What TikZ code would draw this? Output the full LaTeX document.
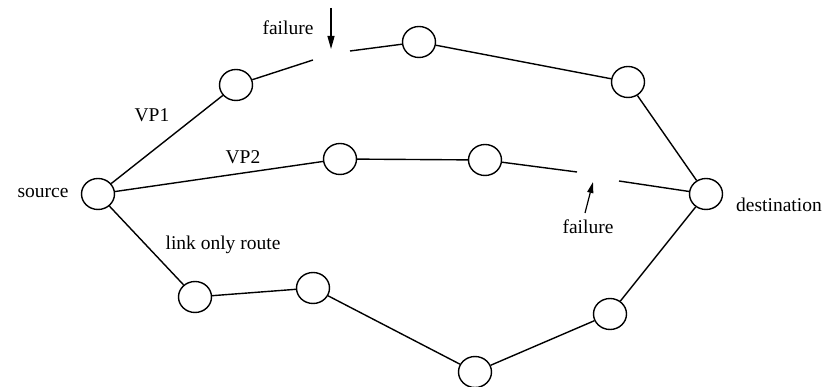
\documentclass[tikz,border=0pt]{standalone}
\usepackage{fontspec}
\setmainfont{Liberation Serif}
\usetikzlibrary{shapes.geometric,arrows.meta}
\begin{document}
\begin{tikzpicture}[x=1pt,y=-1pt,
  router/.style={draw,ellipse,line width=1.4pt,minimum width=33pt,minimum height=31pt,inner sep=0pt},
  link/.style={line width=1.4pt},
  pointer/.style={line width=1.2pt,-{Triangle[length=13pt,width=7pt]}},
  lbl/.style={font=\fontsize{19.5}{22}\selectfont,inner sep=0pt}]
\useasboundingbox (0,0) rectangle (827,387);
% routers
\node[router] (src) at (98,194) {};
\node[router] (a1) at (236,85) {};
\node[router] (a2) at (419,42) {};
\node[router] (a3) at (628,82) {};
\node[router] (dst) at (706,194) {};
\node[router] (b1) at (340,159) {};
\node[router] (b2) at (485,160) {};
\node[router] (c1) at (195,297) {};
\node[router] (c2) at (313,288) {};
\node[router] (c3) at (475,372) {};
\node[router] (c4) at (610,314) {};
% ends of the broken links
\coordinate (fa) at (313,60);
\coordinate (fb) at (350,51);
\coordinate (fc) at (577,172);
\coordinate (fd) at (619,181);
% VP1
\draw[link] (src) -- (a1);
\draw[link] (a1) -- (fa);
\draw[link] (fb) -- (a2);
\draw[link] (a2) -- (a3);
\draw[link] (a3) -- (dst);
% VP2
\draw[link] (src) -- (b1);
\draw[link] (b1) -- (b2);
\draw[link] (b2) -- (fc);
\draw[link] (fd) -- (dst);
% link only route
\draw[link] (src) -- (c1);
\draw[link] (c1) -- (c2);
\draw[link] (c2) -- (c3);
\draw[link] (c3) -- (c4);
\draw[link] (c4) -- (dst);
% failure markers
\coordinate (p1s) at (331,8);
\coordinate (p1e) at (331,49);
\draw[pointer] (p1s) -- (p1e);
\coordinate (p2s) at (585,213);
\coordinate (p2e) at (593,182);
\draw[pointer,-{Triangle[length=11pt,width=6pt]}] (p2s) -- (p2e);
% labels
\node[lbl] (t1) at (288,28) {failure};
\node[lbl] (t2) at (588,227) {failure};
\node[lbl] (t3) at (152,115) {VP1};
\node[lbl] (t4) at (243,157) {VP2};
\node[lbl] (t5) at (43,193) {source};
\node[lbl] (t6) at (223,245) {link only route};
\node[lbl] (t7) at (779,205) {destination};
\end{tikzpicture}
\end{document}
